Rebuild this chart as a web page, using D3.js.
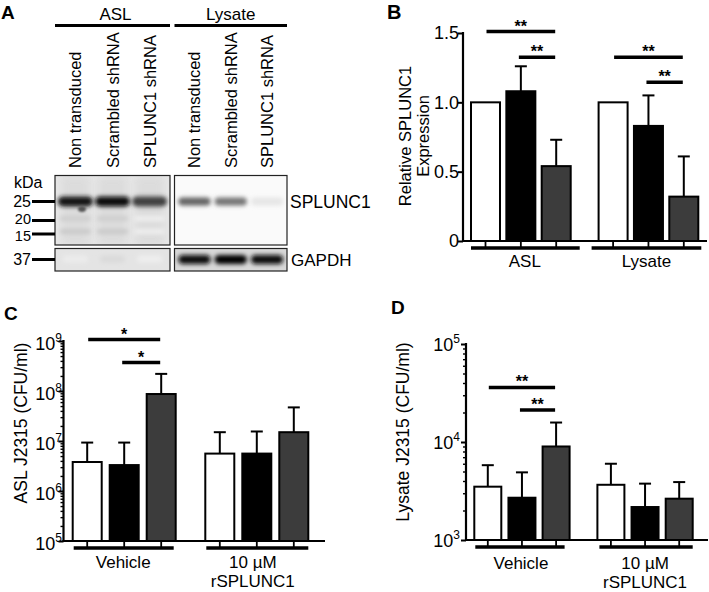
<!DOCTYPE html>
<html><head><meta charset="utf-8">
<script src="https://cdn.jsdelivr.net/npm/d3@7"></script>
<style>
body{margin:0;background:#fff}
svg{display:block}
text{font-family:"Liberation Sans",Arial,Helvetica,sans-serif;fill:#000}
</style>
</head><body>
<svg id="fig" width="709" height="592"></svg>
<script>
// ---------------- DATA ----------------
const conditions = ["Non transduced", "Scrambled shRNA", "SPLUNC1 shRNA"];
const conditionColors = ["#ffffff", "#000000", "#3c3c3c"];

// Panel A (western blot band intensities, 0..1)
const blotGroups = ["ASL", "Lysate"];
const bandSPLUNC1_ASL = [0.93, 0.97, 0.8];
const bandSPLUNC1_Lysate = [0.68, 0.62, 0.18];
const bandGAPDH_ASL = [0.04, 0.14, 0.03];
const bandGAPDH_Lysate = [0.97, 0.98, 0.96];
const markerLabels = ["25", "20", "15"];
const gapdhMarker = "37";

// Panel B
const groupsB = ["ASL", "Lysate"];
const meanB_ASL = [1.00, 1.08, 0.54];
const errTopB_ASL = [null, 1.26, 0.73];
const meanB_Lysate = [1.00, 0.83, 0.32];
const errTopB_Lysate = [null, 1.05, 0.61];
const ticksB = [0, 0.5, 1.0, 1.5];
const tickLabelsB = ["0", "0.5", "1.0", "1.5"];
// [group, fromCondition, toCondition, label, height]
const sigB = [[0, 0, 2, "**", 1.51], [0, 1, 2, "**", 1.325], [1, 0, 2, "**", 1.325], [1, 1, 2, "**", 1.145]];

// Panel C
const groupsC = [["Vehicle"], ["10 µM", "rSPLUNC1"]];
const meanC_Vehicle = [3.8e6, 3.3e6, 8.7e7];
const errTopC_Vehicle = [9.3e6, 9.3e6, 2.2e8];
const meanC_rSPLUNC1 = [5.6e6, 5.6e6, 1.5e7];
const errTopC_rSPLUNC1 = [1.5e7, 1.55e7, 4.7e7];
const ticksC = [1e5, 1e6, 1e7, 1e8, 1e9];
const tickExpC = ["5", "6", "7", "8", "9"];
const sigC = [[0, 0, 2, "*", 1.07e9], [0, 1, 2, "*", 3.7e8]];

// Panel D
const groupsD = [["Vehicle"], ["10 µM", "rSPLUNC1"]];
const meanD_Vehicle = [3.5e3, 2.7e3, 9.0e3];
const errTopD_Vehicle = [5.8e3, 4.9e3, 1.58e4];
const meanD_rSPLUNC1 = [3.66e3, 2.17e3, 2.64e3];
const errTopD_rSPLUNC1 = [6.0e3, 3.76e3, 3.9e3];
const ticksD = [1e3, 1e4, 1e5];
const tickExpD = ["3", "4", "5"];
const sigD = [[0, 0, 2, "**", 3.6e4], [0, 1, 2, "**", 2.12e4]];

// ---------------- DRAW ----------------
const svg = d3.select("#fig");
const defs = svg.append("defs");
[["b1", 1.2], ["b2", 2.0], ["b3", 3.5]].forEach(([id, s]) => {
  defs.append("filter").attr("id", id).attr("x", "-50%").attr("y", "-100%").attr("width", "200%").attr("height", "300%")
    .append("feGaussianBlur").attr("stdDeviation", s);
});

function panelLabel(t, x, y, size) {
  svg.append("text").attr("x", x).attr("y", y).attr("font-size", size).attr("font-weight", "bold").text(t);
}

// ---------- Panel A: western blot ----------
(function () {
  const g = svg.append("g");
  panelLabel("A", 1, 19, 19);
  const boxes = { ASL: [55, 170], Lysate: [174.5, 287] };
  const laneScale = {};
  blotGroups.forEach(k => {
    laneScale[k] = d3.scaleBand().domain(conditions).range(boxes[k]).paddingOuter(0.05);
  });
  blotGroups.forEach(k => {
    const [l, r] = boxes[k];
    g.append("text").attr("x", (l + r) / 2 + (k === "ASL" ? 3 : 0)).attr("y", 20).attr("text-anchor", "middle").attr("font-size", 17).text(k);
    g.append("line").attr("x1", l).attr("x2", r).attr("y1", 25.5).attr("y2", 25.5).attr("stroke", "#000").attr("stroke-width", 3.2);
    conditions.forEach(c => {
      const cx = laneScale[k](c) + laneScale[k].bandwidth() / 2 + 6;
      g.append("text").attr("transform", `translate(${cx},168) rotate(-90)`).attr("font-size", 16.5).text(c);
    });
  });
  const upper = [175.5, 245], lower = [248.5, 271];
  const clip = (id, x, y, w, h) => defs.append("clipPath").attr("id", id).append("rect").attr("x", x).attr("y", y).attr("width", w).attr("height", h);
  const drawBox = (k, yr, bg, id) => {
    const [l, r] = boxes[k];
    clip(id, l, yr[0], r - l, yr[1] - yr[0]);
    const gg = g.append("g").attr("clip-path", `url(#${id})`);
    gg.append("rect").attr("x", l).attr("y", yr[0]).attr("width", r - l).attr("height", yr[1] - yr[0]).attr("fill", bg);
    return gg;
  };
  const aslUp = drawBox("ASL", upper, "#e6e6e6", "c1");
  const lysUp = drawBox("Lysate", upper, "#fafafa", "c2");
  const aslLo = drawBox("ASL", lower, "#e4e4e4", "c3");
  const lysLo = drawBox("Lysate", lower, "#d8d8d8", "c4");
  conditions.forEach(c => {
    const cx = laneScale.ASL(c) + laneScale.ASL.bandwidth() / 2;
    aslUp.append("rect").attr("x", cx - 14).attr("y", 176).attr("width", 28).attr("height", 70).attr("fill", "#d8d8d8").attr("filter", "url(#b3)").attr("opacity", 0.7);
  });
  const grey = v => d3.interpolateGreys(v);
  const band = (gg, k, vals, y, h, shrink) => {
    conditions.forEach((c, i) => {
      const bw = laneScale[k].bandwidth();
      const cx = laneScale[k](c) + bw / 2;
      gg.append("rect").attr("x", cx - bw / 2 + shrink).attr("y", y - h / 2).attr("width", bw - 2 * shrink).attr("height", h)
        .attr("rx", h / 2).attr("fill", grey(vals[i])).attr("filter", "url(#b2)");
    });
  };
  band(aslUp, "ASL", bandSPLUNC1_ASL, 201.5, 10, 1);
  band(aslUp, "ASL", bandSPLUNC1_ASL.map((v, i) => i < 2 ? 0.3 : 0.12), 218.5, 5, 3);
  band(aslUp, "ASL", bandSPLUNC1_ASL.map((v, i) => i < 2 ? 0.32 : 0.12), 231.5, 5, 3);
  aslUp.append("ellipse").attr("cx", 82).attr("cy", 209).attr("rx", 4).attr("ry", 3).attr("fill", "#555").attr("filter", "url(#b1)");
  band(lysUp, "Lysate", bandSPLUNC1_Lysate, 201.5, 8, 2);
  band(aslLo, "ASL", bandGAPDH_ASL.map(v => v + 0.1), 259, 7, 6);
  band(lysLo, "Lysate", bandGAPDH_Lysate, 259.5, 9, 2);
  [["ASL", upper], ["Lysate", upper], ["ASL", lower], ["Lysate", lower]].forEach(([k, yr]) => {
    const [l, r] = boxes[k];
    g.append("rect").attr("x", l).attr("y", yr[0]).attr("width", r - l).attr("height", yr[1] - yr[0]).attr("fill", "none").attr("stroke", "#222").attr("stroke-width", 1.2);
  });
  const mY = { "25": 201.5, "20": 220.5, "15": 234 };
  const mTextY = { "25": 201.5, "20": 219, "15": 235.5, "37": 259.5 };
  const mSize = { "25": 16, "20": 14.5, "15": 14.5, "37": 16 };
  g.append("text").attr("x", 14).attr("y", 188).attr("font-size", 16).text("kDa");
  markerLabels.concat([gapdhMarker]).forEach(m => {
    const y = m === gapdhMarker ? 259.5 : mY[m];
    g.append("text").attr("x", 31).attr("y", mTextY[m]).attr("dy", "0.36em").attr("text-anchor", "end").attr("font-size", mSize[m]).text(m);
    g.append("line").attr("x1", 32).attr("x2", 55).attr("y1", y).attr("y2", y).attr("stroke", "#000").attr("stroke-width", 3);
  });
  g.append("text").attr("x", 290).attr("y", 201.5).attr("dy", "0.36em").attr("font-size", 17.5).text("SPLUNC1");
  g.append("text").attr("x", 291).attr("y", 259.5).attr("dy", "0.36em").attr("font-size", 17).text("GAPDH");
})();

// ---------- generic bar panel ----------
function barPanel(cfg) {
  const g = svg.append("g");
  const y = cfg.y;
  const gx = d3.scaleBand().domain(d3.range(cfg.means.length)).range(cfg.barRange)
    .paddingInner(1 - cfg.groupWidth / ((cfg.barRange[1] - cfg.barRange[0]) - cfg.groupWidth));
  const bx = d3.scaleBand().domain(d3.range(3)).range([0, gx.bandwidth()])
    .paddingInner(1 - cfg.barWidth / ((gx.bandwidth() - cfg.barWidth) / 2));
  const y0 = y.range()[0], yTop = y.range()[1];
  const cx = (gi, ci) => gx(gi) + bx(ci) + bx.bandwidth() / 2;

  const ax = g.append("g").attr("transform", `translate(${cfg.axisX},0)`);
  ax.call(d3.axisLeft(y).tickValues(cfg.ticks).tickSize(cfg.tickLen).tickFormat(""));
  ax.select(".domain").remove();
  ax.selectAll(".tick line").attr("stroke", "#000").attr("stroke-width", 2);
  if (cfg.minor) {
    const minor = [];
    const [lo, hi] = y.domain();
    for (let d = lo; d < hi; d *= 10) for (let m = 2; m <= 9; m++) minor.push(d * m);
    const mx = g.append("g").attr("transform", `translate(${cfg.axisX},0)`);
    mx.call(d3.axisLeft(y).tickValues(minor).tickSize(3).tickFormat(""));
    mx.select(".domain").remove();
    mx.selectAll(".tick line").attr("stroke", "#000").attr("stroke-width", 1.4);
  }
  g.append("line").attr("x1", cfg.axisX).attr("x2", cfg.axisX).attr("y1", yTop - 1).attr("y2", y0).attr("stroke", "#000").attr("stroke-width", 2.2);
  cfg.ticks.forEach((t, i) => {
    if (cfg.exps) {
      const tx = g.append("text").attr("x", cfg.labelX).attr("y", y(t) + cfg.labelDy).attr("text-anchor", "end").attr("font-size", 18);
      tx.append("tspan").text("10");
      tx.append("tspan").attr("dy", -8).attr("font-size", 12).text(cfg.exps[i]);
    } else {
      g.append("text").attr("x", cfg.labelX).attr("y", y(t)).attr("dy", "0.36em").attr("text-anchor", "end").attr("font-size", 18).text(cfg.tickLabels[i]);
    }
  });
  cfg.yLabel.forEach((ln, i) => {
    g.append("text").attr("transform", `translate(${cfg.yLabelX[i]},${cfg.yLabelY}) rotate(-90)`)
      .attr("text-anchor", "middle").attr("font-size", cfg.yLabelSize).text(ln);
  });
  cfg.means.forEach((arr, gi) => {
    arr.forEach((v, ci) => {
      g.append("rect").attr("x", gx(gi) + bx(ci)).attr("y", y(v)).attr("width", bx.bandwidth()).attr("height", y0 - y(v))
        .attr("fill", conditionColors[ci]).attr("stroke", "#000").attr("stroke-width", 2);
      const e = cfg.errTops[gi][ci];
      if (e != null) {
        const c = cx(gi, ci);
        g.append("line").attr("x1", c).attr("x2", c).attr("y1", y(v)).attr("y2", y(e)).attr("stroke", "#000").attr("stroke-width", 2);
        g.append("line").attr("x1", c - 6).attr("x2", c + 6).attr("y1", y(e)).attr("y2", y(e)).attr("stroke", "#000").attr("stroke-width", 2);
      }
    });
  });
  g.append("line").attr("x1", cfg.axisX - 1).attr("x2", cfg.axisEnd).attr("y1", y0).attr("y2", y0).attr("stroke", "#000").attr("stroke-width", 2.2);
  cfg.means.forEach((arr, gi) => {
    const ext = cfg.groupLineExt[gi];
    g.append("line").attr("x1", gx(gi) + ext[0]).attr("x2", gx(gi) + gx.bandwidth() + ext[1]).attr("y1", y0 + 7).attr("y2", y0 + 7)
      .attr("stroke", "#000").attr("stroke-width", 3.5);
    arr.forEach((v, ci) => {
      const c = cx(gi, ci);
      g.append("line").attr("x1", c).attr("x2", c).attr("y1", y0).attr("y2", y0 + 7).attr("stroke", "#000").attr("stroke-width", 1.8);
    });
    cfg.groupLabels[gi].forEach((ln, li) => {
      g.append("text").attr("x", gx(gi) + gx.bandwidth() / 2 + cfg.groupLabelDx[gi]).attr("y", cfg.groupLabelY + li * 19)
        .attr("text-anchor", "middle").attr("font-size", 17).text(ln);
    });
  });
  cfg.sig.forEach(([gi, a, b, lab, h]) => {
    const x1 = cx(gi, a) + (a === 1 ? -2 : 1), x2 = cx(gi, b) - 1;
    g.append("line").attr("x1", x1).attr("x2", x2).attr("y1", y(h)).attr("y2", y(h)).attr("stroke", "#000").attr("stroke-width", 3.5);
    g.append("text").attr("x", (x1 + x2) / 2).attr("y", y(h) + cfg.starDy).attr("text-anchor", "middle")
      .attr("font-size", 16).attr("font-weight", "bold").text(lab);
  });
}

// Panel B
panelLabel("B", 387, 19, 20);
barPanel({
  y: d3.scaleLinear().domain([0, 1.5]).range([241, 33]),
  means: [meanB_ASL, meanB_Lysate], errTops: [errTopB_ASL, errTopB_Lysate],
  barRange: [471, 698.3], groupWidth: 99.7, barWidth: 29,
  axisX: 463, axisEnd: 707, ticks: ticksB, tickLabels: tickLabelsB, tickLen: 5, labelX: 459,
  yLabel: ["Relative SPLUNC1", "Expression"], yLabelX: [411, 429], yLabelY: 136, yLabelSize: 16.5,
  groupLabels: [["ASL"], ["Lysate"]], groupLabelDx: [4, -2], groupLabelY: 267,
  groupLineExt: [[0, 9], [-7, 3]],
  sig: sigB, starDy: 0
});

// Panel C
panelLabel("C", 4, 320, 19);
barPanel({
  y: d3.scaleLog().domain([1e5, 1e9]).range([541, 341]),
  means: [meanC_Vehicle, meanC_rSPLUNC1], errTops: [errTopC_Vehicle, errTopC_rSPLUNC1],
  barRange: [72.7, 308.3], groupWidth: 103, barWidth: 29,
  axisX: 63.5, axisEnd: 325, ticks: ticksC, exps: tickExpC, tickLen: 5, labelX: 62, labelDy: 9,
  minor: true,
  yLabel: ["ASL J2315 (CFU/ml)"], yLabelX: [27], yLabelY: 423, yLabelSize: 17.5,
  groupLabels: groupsC, groupLabelDx: [-1, -4], groupLabelY: 568,
  groupLineExt: [[1, -2], [1, 0]],
  sig: sigC, starDy: 0
});

// Panel D
panelLabel("D", 391, 314, 19);
barPanel({
  y: d3.scaleLog().domain([1e3, 1e5]).range([540, 344]),
  means: [meanD_Vehicle, meanD_rSPLUNC1], errTops: [errTopD_Vehicle, errTopD_rSPLUNC1],
  barRange: [474.3, 692.7], groupWidth: 95.3, barWidth: 27,
  axisX: 466, axisEnd: 708, ticks: ticksD, exps: tickExpD, tickLen: 5, labelX: 460, labelDy: 7,
  minor: true,
  yLabel: ["Lysate J2315 (CFU/ml)"], yLabelX: [409], yLabelY: 432, yLabelSize: 17.5,
  groupLabels: groupsD, groupLabelDx: [-1, 0], groupLabelY: 569,
  groupLineExt: [[1, -5], [2, 0]],
  sig: sigD, starDy: 0
});
</script>
</body></html>
